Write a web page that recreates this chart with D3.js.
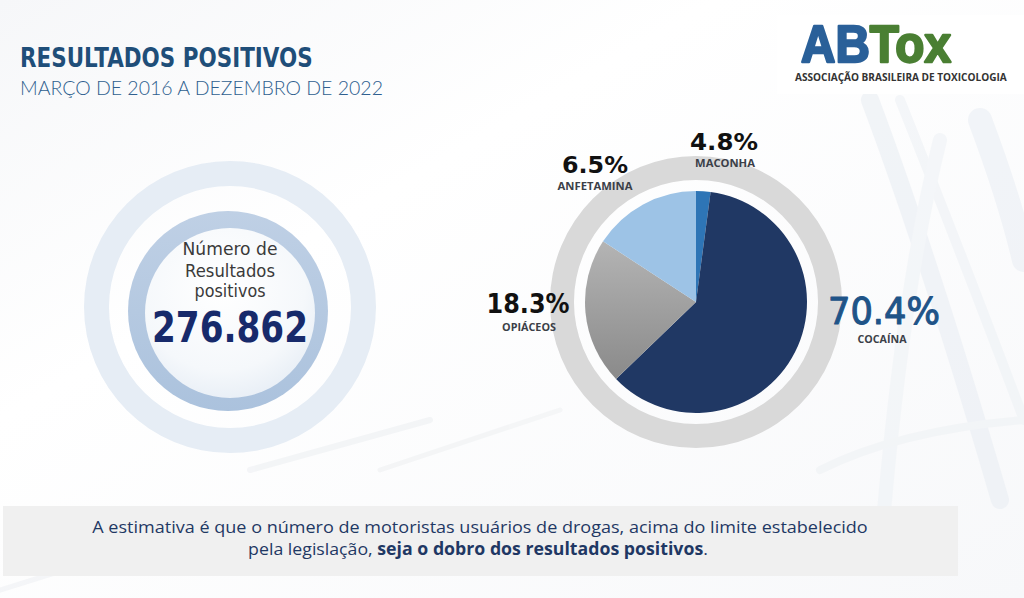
<!DOCTYPE html>
<html>
<head>
<meta charset="utf-8">
<script src="https://cdn.jsdelivr.net/npm/d3@7"></script>
<style>
  html, body { margin: 0; padding: 0; background: #ffffff; }
  svg { display: block; }
</style>
</head>
<body>
<svg id="chart" width="1024" height="598"></svg>
<script>
// ---------------- DATA ----------------
const title = "RESULTADOS POSITIVOS";
const subtitle = "MARÇO DE 2016 A DEZEMBRO DE 2022";
const totalLabel = ["Número de", "Resultados", "positivos"];
const totalValue = "276.862";
const categories = ["MACONHA", "COCAÍNA", "OPIÁCEOS", "ANFETAMINA"];
const percentLabels = ["4.8%", "70.4%", "18.3%", "6.5%"];
// slice shares as drawn in the picture (clockwise from 12 o'clock)
const sliceShares = [2.1, 60.7, 21.4, 15.8];
const footnoteLine1 = "A estimativa é que o número de motoristas usuários de drogas, acima do limite estabelecido";
const footnoteLine2a = "pela legislação, ";
const footnoteLine2b = "seja o dobro dos resultados positivos";
const footnoteLine2c = ".";

// ---------------- SETUP ----------------
const svg = d3.select("#chart");
const defs = svg.append("defs");

// helper: text fitted to a target width by horizontal scaling
function fitText(parent, opts) {
  const g = parent.append("g");
  const t = g.append("text")
    .attr("x", 0).attr("y", 0)
    .attr("text-anchor", opts.anchor || "start")
    .attr("font-family", opts.family || "'Open Sans', sans-serif")
    .attr("font-size", opts.size)
    .attr("font-weight", opts.weight || 400)
    .attr("fill", opts.fill || "#000");
  if (opts.stroke) t.attr("stroke", opts.fill).attr("stroke-width", opts.stroke).attr("stroke-linejoin", "round");
  if (opts.runs) {
    opts.runs.forEach(r => {
      const ts = t.append("tspan").attr("font-weight", r.weight || opts.weight || 400).text(r.text);
      if (r.fill) { ts.attr("fill", r.fill); if (opts.stroke) ts.attr("stroke", r.fill); }
    });
  } else {
    t.text(opts.text);
  }
  let s = 1;
  if (opts.width) {
    const L = t.node().getComputedTextLength();
    if (L > 0) s = opts.width / L;
  }
  g.attr("transform", `translate(${opts.x},${opts.y}) scale(${s},1)`);
  return g;
}

// ---------------- BACKGROUND ----------------
const bgGrad = defs.append("linearGradient").attr("id", "bg").attr("x1", 0).attr("y1", 0).attr("x2", 1).attr("y2", 1);
bgGrad.append("stop").attr("offset", 0).attr("stop-color", "#f6f7f9");
bgGrad.append("stop").attr("offset", 0.35).attr("stop-color", "#ffffff");
bgGrad.append("stop").attr("offset", 1).attr("stop-color", "#f7f8fa");
svg.append("rect").attr("width", 1024).attr("height", 598).attr("fill", "url(#bg)");

// faint decorative strokes (background photo feel)
const deco = svg.append("g").attr("fill", "none").attr("stroke-linecap", "round").attr("opacity", 0.55);
[
  {d: "M 870 100 Q 930 260 1000 500", w: 18, c: "#e8edf3"},
  {d: "M 900 100 Q 960 250 1024 420", w: 10, c: "#edf1f5"},
  {d: "M 940 140 Q 900 300 880 560", w: 14, c: "#eef2f6"},
  {d: "M 980 120 Q 1010 200 1024 260", w: 24, c: "#e9eef4"},
  {d: "M 250 470 L 430 420", w: 6, c: "#eceff2"},
  {d: "M 380 470 L 560 410", w: 5, c: "#eef0f2"},
  {d: "M 0 590 L 160 540", w: 5, c: "#eceff2"},
  {d: "M 820 470 Q 900 430 1024 420", w: 8, c: "#eef1f4"}
].forEach(p => deco.append("path").attr("d", p.d).attr("stroke", p.c).attr("stroke-width", p.w));

// ---------------- TITLES ----------------
fitText(svg, {x: 20, y: 67, text: title, size: 26, weight: 700, family: "'DejaVu Sans', sans-serif", fill: "#1f4e79", width: 293});
fitText(svg, {x: 20, y: 95, text: subtitle, size: 20, weight: 300, family: "'Lato', 'DejaVu Sans', sans-serif", fill: "#2f5f8f", width: 363});

// ---------------- LOGO ----------------
svg.append("rect").attr("x", 777).attr("y", 15).attr("width", 247).attr("height", 79).attr("fill", "#ffffff");
fitText(svg, {x: 801, y: 62, runs: [{text: "AB", fill: "#2a6099"}, {text: "Tox", fill: "#4a7f33"}], size: 52, weight: 700,
  family: "'Liberation Sans', Arial, sans-serif", fill: "#2a6099", width: 150, stroke: 2.4});
fitText(svg, {x: 795, y: 81, text: "ASSOCIAÇÃO BRASILEIRA DE TOXICOLOGIA", size: 10, weight: 700,
  family: "'Open Sans', sans-serif", fill: "#333333", width: 212});

// ---------------- LEFT CIRCLE (total) ----------------
const lc = {x: 230, y: 307};
svg.append("path")
  .attr("transform", `translate(${lc.x},${lc.y})`)
  .attr("d", d3.arc()({innerRadius: 121, outerRadius: 146, startAngle: 0, endAngle: 2 * Math.PI}))
  .attr("fill", "#e6edf5");
const midGrad = defs.append("linearGradient").attr("id", "midRing").attr("x1", 0).attr("y1", 0).attr("x2", 0).attr("y2", 1);
midGrad.append("stop").attr("offset", 0).attr("stop-color", "#bfd0e5");
midGrad.append("stop").attr("offset", 1).attr("stop-color", "#abc2dd");
svg.append("circle").attr("cx", 228).attr("cy", 311).attr("r", 100).attr("fill", "url(#midRing)");
const inGrad = defs.append("radialGradient").attr("id", "inner").attr("cx", 0.45).attr("cy", 0.35).attr("r", 0.7);
inGrad.append("stop").attr("offset", 0).attr("stop-color", "#ffffff");
inGrad.append("stop").attr("offset", 0.7).attr("stop-color", "#f5f8fb");
inGrad.append("stop").attr("offset", 1).attr("stop-color", "#e6edf5");
svg.append("circle").attr("cx", 230).attr("cy", 313).attr("r", 85).attr("fill", "url(#inner)");

const lineY = [255, 277, 297];
const lineW = [95, 90, 71];
totalLabel.forEach((t, i) => fitText(svg, {x: 230, y: lineY[i], text: t, size: 17, weight: 400, anchor: "middle",
  family: "'DejaVu Sans', sans-serif", fill: "#3a3a3a", width: lineW[i]}));
fitText(svg, {x: 230, y: 342, text: totalValue, size: 42, weight: 700, anchor: "middle",
  family: "'DejaVu Sans', sans-serif", fill: "#172a6b", width: 156});

// ---------------- PIE ----------------
const pc = {x: 696, y: 302};
const pieG = svg.append("g").attr("transform", `translate(${pc.x},${pc.y})`);
pieG.append("path")
  .attr("d", d3.arc()({innerRadius: 122, outerRadius: 146, startAngle: 0, endAngle: 2 * Math.PI}))
  .attr("fill", "#d9d9d9");

const grayGrad = defs.append("linearGradient").attr("id", "grayGrad").attr("x1", 0).attr("y1", 0).attr("x2", 0).attr("y2", 1);
grayGrad.append("stop").attr("offset", 0).attr("stop-color", "#b4b4b4");
grayGrad.append("stop").attr("offset", 1).attr("stop-color", "#8a8a8a");

const sliceColors = ["#2e75b6", "#203864", "url(#grayGrad)", "#9dc3e6"];
const pie = d3.pie().sort(null).value(d => d.v);
const arc = d3.arc().innerRadius(0).outerRadius(111);
const pieData = pie(categories.map((c, i) => ({c, v: sliceShares[i], i})));
pieG.selectAll("path.slice").data(pieData).join("path")
  .attr("class", "slice")
  .attr("d", arc)
  .attr("fill", d => sliceColors[d.data.i]);

// labels
const pctFmt = [
  {x: 724, y: 150, size: 23, w: 68, fill: "#111111", weight: 700, stroke: 0},
  {x: 884, y: 324, size: 37, w: 112, fill: "#1f5488", weight: 400, stroke: 1.1},
  {x: 528, y: 313, size: 26, w: 83, fill: "#111111", weight: 700, stroke: 0},
  {x: 595, y: 173, size: 23, w: 66, fill: "#111111", weight: 700, stroke: 0}
];
const catFmt = [
  {x: 725, y: 167, w: 60},
  {x: 882, y: 343, w: 49},
  {x: 529, y: 331, w: 54},
  {x: 595, y: 190, w: 75}
];
categories.forEach((c, i) => {
  const p = pctFmt[i];
  fitText(svg, {x: p.x, y: p.y, text: percentLabels[i], size: p.size, weight: p.weight, anchor: "middle",
    family: "'DejaVu Sans', sans-serif", fill: p.fill, width: p.w, stroke: p.stroke});
  const k = catFmt[i];
  fitText(svg, {x: k.x, y: k.y, text: c, size: 10.5, weight: 700, anchor: "middle",
    family: "'Open Sans', sans-serif", fill: "#3b3f48", width: k.w});
});

// ---------------- FOOTNOTE BOX ----------------
svg.append("rect").attr("x", 3).attr("y", 506).attr("width", 955).attr("height", 70).attr("fill", "#f0f0f0");
fitText(svg, {x: 480, y: 533, text: footnoteLine1, size: 17, weight: 400, anchor: "middle",
  family: "'Open Sans', sans-serif", fill: "#1f3864", width: 776});
fitText(svg, {x: 478, y: 555, runs: [{text: footnoteLine2a, weight: 400}, {text: footnoteLine2b, weight: 700}, {text: footnoteLine2c, weight: 400}],
  size: 17, anchor: "middle", family: "'Open Sans', sans-serif", fill: "#1f3864", width: 460});
</script>
</body>
</html>
